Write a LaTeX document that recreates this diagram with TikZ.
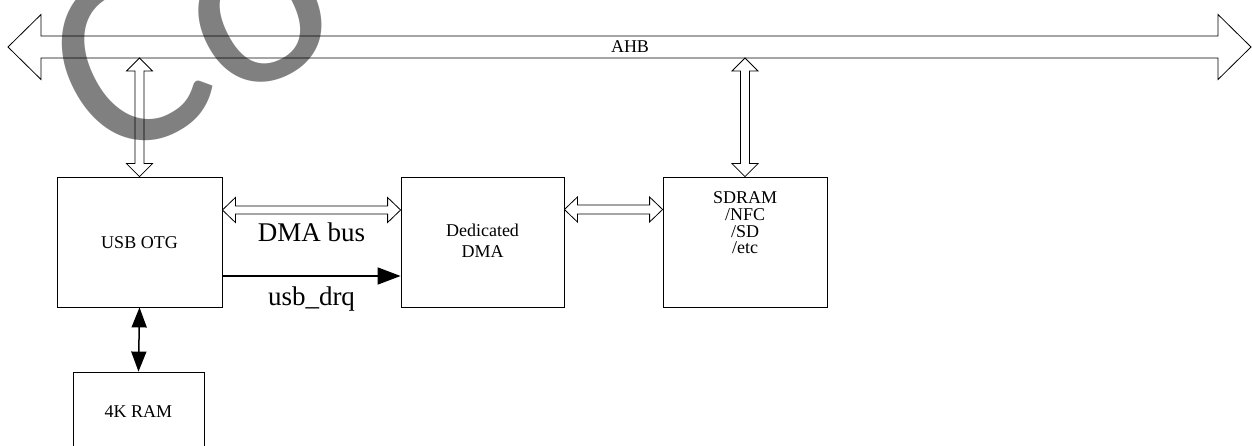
\documentclass[tikz,border=0pt]{standalone}
\usepackage{fontspec}
\setmainfont{Liberation Serif}
\newfontfamily\wmfont{Carlito}
\usetikzlibrary{arrows.meta,calc}
\tikzset{
  blk/.style={draw=black, line width=0.8pt, inner sep=0pt},
  fat/.style={draw=black, line width=0.8pt, line join=miter},
  lbl/.style={font=\fontsize{18}{18}\selectfont, inner sep=0pt, anchor=base},
  biglbl/.style={font=\fontsize{27}{27}\selectfont, inner sep=0pt, anchor=base},
  wm/.style={text=black!50, font=\wmfont\fontsize{260}{260}\selectfont, inner sep=0pt, anchor=base west, rotate=27},
}
% horizontal hollow double arrow: #1 left tip, #2 right tip, #3 shaft half width, #4 head half width, #5 head length
\newcommand\hfatarrow[5]{%
  \draw[fat] (#1) -- ($(#1)+(#5,-#4)$) -- ($(#1)+(#5,-#3)$) -- ($(#2)+(-#5,-#3)$)
    -- ($(#2)+(-#5,-#4)$) -- (#2) -- ($(#2)+(-#5,#4)$) -- ($(#2)+(-#5,#3)$)
    -- ($(#1)+(#5,#3)$) -- ($(#1)+(#5,#4)$) -- cycle;}
% vertical hollow double arrow: #1 top tip, #2 bottom tip
\newcommand\vfatarrow[5]{%
  \draw[fat] (#1) -- ($(#1)+(-#4,#5)$) -- ($(#1)+(-#3,#5)$) -- ($(#2)+(-#3,-#5)$)
    -- ($(#2)+(-#4,-#5)$) -- (#2) -- ($(#2)+(#4,-#5)$) -- ($(#2)+(#3,-#5)$)
    -- ($(#1)+(#3,#5)$) -- ($(#1)+(#4,#5)$) -- cycle;}
\begin{document}
\begin{tikzpicture}[x=1pt,y=-1pt]
\useasboundingbox (0,0) rectangle (1252,446);
\clip (0,0) rectangle (1252,446);
\fill[white] (0,0) rectangle (1252,446);

% watermark
\node[wm] (wmark) at (104,168) {Co};

% blocks
\node[blk, minimum width=165pt, minimum height=130pt] (usb) at (139.5,242) {};
\node[blk, minimum width=163pt, minimum height=130pt] (dma) at (482.5,242) {};
\node[blk, minimum width=164pt, minimum height=130pt] (sdram) at (745,242) {};
\node[blk, minimum width=131pt, minimum height=80pt] (ram) at (138.5,412) {};

% texts
\node[lbl] (tusb) at (usb.center |- 0,248) {USB OTG};
\node[lbl] (tdma1) at (dma.center |- 0,237) {Dedicated};
\node[lbl] (tdma2) at (dma.center |- 0,258) {DMA};
\node[lbl] (ts1) at (sdram.center |- 0,204) {SDRAM};
\node[lbl] (ts2) at (sdram.center |- 0,221) {/NFC};
\node[lbl] (ts3) at (sdram.center |- 0,238) {/SD};
\node[lbl] (ts4) at (sdram.center |- 0,254) {/etc};
\node[lbl] (tram) at (ram.center |- 0,417) {4K RAM};

% AHB bus
\coordinate (ahbL) at (8,47);
\coordinate (ahbR) at (1251,47);
\hfatarrow{ahbL}{ahbR}{11}{32.5}{33}
\node[lbl] (tahb) at (630,53) {AHB};

% vertical bus links
\coordinate (ahbA) at (usb.north |- 0,58);
\vfatarrow{ahbA}{usb.north}{4.5}{13}{13}
\coordinate (ahbB) at (sdram.north |- 0,58);
\vfatarrow{ahbB}{sdram.north}{4.5}{13}{13}

% DMA bus
\coordinate (dbL) at (usb.east |- 0,210);
\coordinate (dbR) at (dma.west |- 0,210);
\hfatarrow{dbL}{dbR}{4}{12.5}{13}
\node[biglbl] (tdbus) at ($(dbL)!0.5!(dbR)$) [yshift=-31.5pt] {DMA bus};

\coordinate (dsL) at (dma.east |- 0,209.5);
\coordinate (dsR) at (sdram.west |- 0,209.5);
\hfatarrow{dsL}{dsR}{4.5}{12.5}{13}

% usb_drq
\coordinate (drqL) at (usb.east |- 0,276);
\coordinate (drqR) at (dma.west |- 0,276);
\draw[line width=1.6pt, -{Triangle[length=23pt,width=17pt]}] (drqL) -- (drqR);
\node[biglbl] (tdrq) at ($(drqL)!0.5!(drqR)$) [yshift=-29pt] {usb\_drq};

% USB <-> RAM
\draw[line width=1.5pt, {Triangle[length=20pt,width=15pt]}-{Triangle[length=20pt,width=15pt]}] (usb.south) -- (ram.north);
\end{tikzpicture}
\end{document}
